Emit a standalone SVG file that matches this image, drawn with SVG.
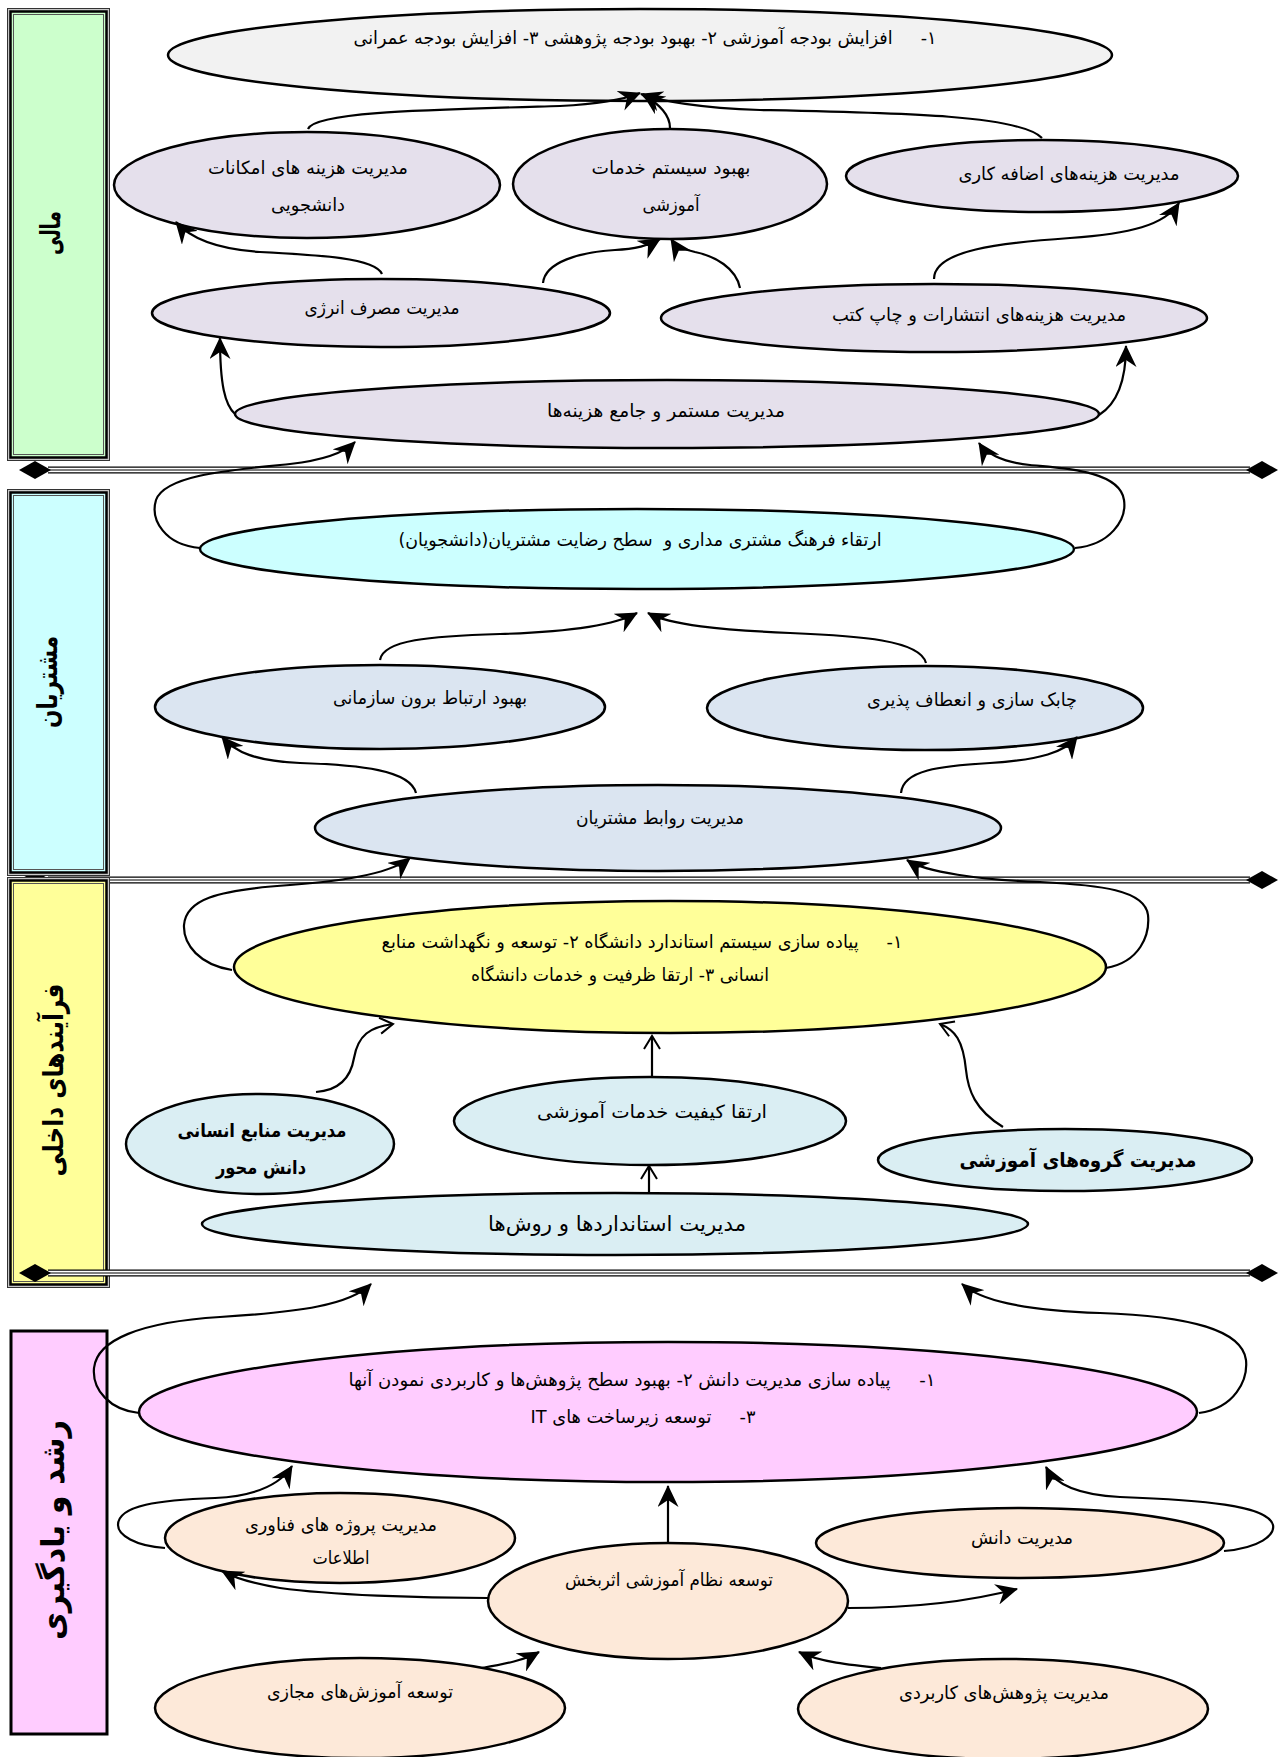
<svg xmlns="http://www.w3.org/2000/svg" width="1280" height="1757" viewBox="0 0 1280 1757">
<style>
.t{font-family:"DejaVu Sans",sans-serif;font-size:18px;direction:rtl;text-anchor:middle;fill:#000}
.b{font-weight:bold}
.side{font-family:"DejaVu Sans",sans-serif;font-weight:bold;font-size:28px;direction:rtl;text-anchor:middle;fill:#000}
.n{stroke:#000;stroke-width:2.5}
.c{fill:none;stroke:#000;stroke-width:2.2}
.a{marker-end:url(#arr)}
.o{marker-end:url(#open)}
</style>
<defs>
<marker id="arr" markerUnits="userSpaceOnUse" markerWidth="23" markerHeight="21" refX="21" refY="10.5" orient="auto">
<path d="M0,0 L22,10.5 L0,21 L7,10.5 Z" fill="#000"/>
</marker>
<marker id="open" markerUnits="userSpaceOnUse" markerWidth="16" markerHeight="18" refX="14" refY="9" orient="auto">
<path d="M1,1 L14,9 L1,17" fill="none" stroke="#000" stroke-width="2"/>
</marker>
<g id="sepline">
<line x1="48" y1="0" x2="1250" y2="0" stroke="#000" stroke-width="7"/>
<line x1="48" y1="0" x2="1250" y2="0" stroke="#fff" stroke-width="4.5"/>
<line x1="48" y1="0" x2="1250" y2="0" stroke="#555" stroke-width="1.6"/>
<path d="M19,0 L35,-9 L51,0 L35,9 Z" fill="#000"/>
<path d="M1246,0 L1262,-9 L1278,0 L1262,9 Z" fill="#000"/>
</g>
</defs>
<rect width="1280" height="1757" fill="#fff"/>

<g id="separators-back">
<use href="#sepline" y="470"/>
<use href="#sepline" y="880"/>
</g>

<g id="box-mali">
<rect x="7.5" y="8.5" width="102" height="452" fill="#c8c8c8" stroke="#333" stroke-width="1"/>
<rect x="10.5" y="11.5" width="96" height="446" fill="#CCFFCC" stroke="#000" stroke-width="2.5"/>
<rect x="13.5" y="14.5" width="90" height="440" fill="none" stroke="#555" stroke-width="1"/>
<text class="side" x="50" y="243" transform="rotate(-90 50 233)" textLength="44" lengthAdjust="spacingAndGlyphs">مالی</text>
</g>
<g id="box-moshtarian">
<rect x="7.5" y="489.5" width="102" height="386" fill="#c8c8c8" stroke="#333" stroke-width="1"/>
<rect x="10.5" y="492.5" width="96" height="380" fill="#CCFFFF" stroke="#000" stroke-width="2.5"/>
<rect x="13.5" y="495.5" width="90" height="374" fill="none" stroke="#555" stroke-width="1"/>
<text class="side" x="47" y="692" transform="rotate(-90 47 682)" textLength="92" lengthAdjust="spacingAndGlyphs">مشتریان</text>
</g>
<g id="box-farayand">
<rect x="7.5" y="877.5" width="102" height="410" fill="#c8c8c8" stroke="#333" stroke-width="1"/>
<rect x="10.5" y="880.5" width="96" height="404" fill="#FFFF99" stroke="#000" stroke-width="2.5"/>
<rect x="13.5" y="883.5" width="90" height="398" fill="none" stroke="#555" stroke-width="1"/>
<text class="side" x="53" y="1090" transform="rotate(-90 53 1080)" textLength="193" lengthAdjust="spacingAndGlyphs">فرآیندهای داخلی</text>
</g>
<g id="box-roshd">
<rect x="11" y="1331" width="96" height="403" fill="#FFCCFF" stroke="#000" stroke-width="3"/>
<text class="side" x="53" y="1541" style="font-size:32px" transform="rotate(-90 53 1530)" textLength="220" lengthAdjust="spacingAndGlyphs">رشد و یادگیری</text>
</g>

<g id="separators-front">
<use href="#sepline" y="1273"/>
</g>

<g id="n1"><ellipse class="n" cx="640" cy="55" rx="472" ry="46" fill="#F2F2F2"/>
<text class="t" x="645" y="44" xml:space="preserve" textLength="583" lengthAdjust="spacingAndGlyphs">۱-     افزایش بودجه آموزشی ۲- بهبود بودجه پژوهشی ۳- افزایش بودجه عمرانی</text></g>
<g id="n2"><ellipse class="n" cx="307" cy="185" rx="193" ry="53" fill="#E5E0EC"/>
<text class="t" x="308" y="174" textLength="200" lengthAdjust="spacingAndGlyphs">مدیریت هزینه های امکانات</text>
<text class="t" x="308" y="211" textLength="74" lengthAdjust="spacingAndGlyphs">دانشجویی</text></g>
<g id="n3"><ellipse class="n" cx="670" cy="184" rx="157" ry="55" fill="#E5E0EC"/>
<text class="t" x="671" y="174" textLength="159" lengthAdjust="spacingAndGlyphs">بهبود سیستم خدمات</text>
<text class="t" x="671" y="211" textLength="57" lengthAdjust="spacingAndGlyphs">آموزشی</text></g>
<g id="n4"><ellipse class="n" cx="1042" cy="176" rx="196" ry="36" fill="#E5E0EC"/>
<text class="t" x="1069" y="180" textLength="221" lengthAdjust="spacingAndGlyphs">مدیریت هزینه&#x200C;های اضافه کاری</text></g>
<g id="n5"><ellipse class="n" cx="381" cy="313" rx="229" ry="34" fill="#E5E0EC"/>
<text class="t" x="382" y="314" textLength="155" lengthAdjust="spacingAndGlyphs">مدیریت مصرف انرژی</text></g>
<g id="n6"><ellipse class="n" cx="934" cy="318" rx="273" ry="34" fill="#E5E0EC"/>
<text class="t" x="979" y="321" textLength="294" lengthAdjust="spacingAndGlyphs">مدیریت هزینه&#x200C;های انتشارات و چاپ کتب</text></g>
<g id="n7"><ellipse class="n" cx="667" cy="414" rx="432" ry="34" fill="#E5E0EC"/>
<text class="t" x="666" y="417" textLength="238" lengthAdjust="spacingAndGlyphs">مدیریت مستمر و جامع هزینه&#x200C;ها</text></g>

<g id="n8"><ellipse class="n" cx="637" cy="549" rx="437" ry="40" fill="#CCFFFF"/>
<text class="t" x="640" y="546" xml:space="preserve" textLength="483" lengthAdjust="spacingAndGlyphs">ارتقاء فرهنگ مشتری مداری و  سطح رضایت مشتریان(دانشجویان)</text></g>
<g id="n9"><ellipse class="n" cx="380" cy="707" rx="225" ry="42" fill="#DBE5F1"/>
<text class="t" x="430" y="704" textLength="194" lengthAdjust="spacingAndGlyphs">بهبود ارتباط برون سازمانی</text></g>
<g id="n10"><ellipse class="n" cx="925" cy="708" rx="218" ry="42" fill="#DBE5F1"/>
<text class="t" x="972" y="706" textLength="210" lengthAdjust="spacingAndGlyphs">چابک سازی و انعطاف پذیری</text></g>
<g id="n11"><ellipse class="n" cx="658" cy="828" rx="343" ry="43" fill="#DBE5F1"/>
<text class="t" x="660" y="824" textLength="168" lengthAdjust="spacingAndGlyphs">مدیریت روابط مشتریان</text></g>

<g id="n12"><ellipse class="n" cx="670" cy="967" rx="436" ry="66" fill="#FFFF99"/>
<text class="t" x="642" y="948" xml:space="preserve" textLength="521" lengthAdjust="spacingAndGlyphs">۱-     پیاده سازی سیستم استاندارد دانشگاه ۲- توسعه و نگهداشت منابع</text>
<text class="t" x="620" y="981" textLength="298" lengthAdjust="spacingAndGlyphs">انسانی ۳- ارتقا ظرفیت و خدمات دانشگاه</text></g>
<g id="n13"><ellipse class="n" cx="260" cy="1144" rx="134" ry="50" fill="#DAEEF3"/>
<text class="t b" x="262" y="1137" style="font-size:19px" textLength="169" lengthAdjust="spacingAndGlyphs">مدیریت منابع انسانی</text>
<text class="t b" x="261" y="1174" style="font-size:19px" textLength="90" lengthAdjust="spacingAndGlyphs">دانش محور</text></g>
<g id="n14"><ellipse class="n" cx="650" cy="1121" rx="196" ry="44" fill="#DAEEF3"/>
<text class="t" x="652" y="1118" textLength="230" lengthAdjust="spacingAndGlyphs">ارتقا کیفیت خدمات آموزشی</text></g>
<g id="n15"><ellipse class="n" cx="1065" cy="1160" rx="187" ry="31" fill="#DAEEF3"/>
<text class="t b" x="1078" y="1167" style="font-size:20px" textLength="237" lengthAdjust="spacingAndGlyphs">مدیریت گروه&#x200C;های آموزشی</text></g>
<g id="n16"><ellipse class="n" cx="615" cy="1224" rx="413" ry="31" fill="#DAEEF3"/>
<text class="t" x="617" y="1231" style="font-size:21px" textLength="258" lengthAdjust="spacingAndGlyphs">مدیریت استانداردها و روش&#x200C;ها</text></g>

<g id="n17"><ellipse class="n" cx="668" cy="1412" rx="529" ry="70" fill="#FFCCFF"/>
<text class="t" x="642" y="1386" xml:space="preserve" textLength="587" lengthAdjust="spacingAndGlyphs">۱-     پیاده سازی مدیریت دانش ۲- بهبود سطح پژوهش&#x200C;ها و کاربردی نمودن آنها</text>
<text class="t" x="643" y="1423" xml:space="preserve" textLength="225" lengthAdjust="spacingAndGlyphs">۳-     توسعه زیرساخت های IT</text></g>
<g id="n18"><ellipse class="n" cx="340" cy="1538" rx="175" ry="45" fill="#FDE9D9"/>
<text class="t" x="341" y="1531" textLength="192" lengthAdjust="spacingAndGlyphs">مدیریت پروژه های فناوری</text>
<text class="t" x="341" y="1564" textLength="57" lengthAdjust="spacingAndGlyphs">اطلاعات</text></g>
<g id="n19"><ellipse class="n" cx="668" cy="1601" rx="180" ry="58" fill="#FDE9D9"/>
<text class="t" x="669" y="1586" textLength="208" lengthAdjust="spacingAndGlyphs">توسعه نظام آموزشی اثربخش</text></g>
<g id="n20"><ellipse class="n" cx="1020" cy="1543" rx="204" ry="35" fill="#FDE9D9"/>
<text class="t" x="1022" y="1544" textLength="102" lengthAdjust="spacingAndGlyphs">مدیریت دانش</text></g>
<g id="n21"><ellipse class="n" cx="360" cy="1708" rx="205" ry="50" fill="#FDE9D9"/>
<text class="t" x="360" y="1698" textLength="186" lengthAdjust="spacingAndGlyphs">توسعه آموزش&#x200C;های مجازی</text></g>
<g id="n22"><ellipse class="n" cx="1003" cy="1709" rx="205" ry="50" fill="#FDE9D9"/>
<text class="t" x="1004" y="1699" textLength="210" lengthAdjust="spacingAndGlyphs">مدیریت پژوهش&#x200C;های کاربردی</text></g>

<g id="connectors">
<path class="c a" d="M308,129 C315,112 420,110 560,106 C600,104 625,99 640,93"/>
<path class="c a" d="M670,128 C670,115 660,105 643,94"/>
<path class="c a" d="M1042,138 C1020,115 900,113 760,110 C700,108 660,101 641,94"/>
<path class="c a" d="M382,274 C375,258 320,255 260,252 C215,249 190,238 176,222"/>
<path class="c a" d="M543,283 C545,262 580,252 615,250 C635,249 650,245 660,239"/>
<path class="c a" d="M740,288 C736,268 715,256 695,252 C682,249 675,245 671,239"/>
<path class="c a" d="M934,279 C934,250 1000,243 1070,238 C1130,234 1165,225 1179,203"/>
<path class="c a" d="M235,414 C225,405 220,385 220,338"/>
<path class="c a" d="M1099,415 C1115,405 1126,385 1126,346"/>
<path class="c a" d="M200,548 C165,545 150,520 156,500 C165,475 230,470 290,464 C325,460 345,452 355,442"/>
<path class="c a" d="M1075,548 C1110,545 1127,520 1124,500 C1120,470 1060,468 1030,465 C1000,462 985,452 979,443"/>
<path class="c a" d="M380,660 C383,640 430,636 500,634 C570,632 615,625 637,613"/>
<path class="c a" d="M926,663 C920,640 860,636 790,633 C720,630 670,625 648,613"/>
<path class="c a" d="M416,793 C410,770 360,765 300,763 C255,761 235,752 222,737"/>
<path class="c a" d="M901,793 C903,770 940,766 990,763 C1040,760 1065,752 1077,737"/>
<path class="c a" d="M232,970 C200,965 183,945 184,925 C186,900 215,890 290,885 C360,880 395,870 410,858"/>
<path class="c a" d="M1106,968 C1140,962 1150,935 1148,915 C1145,890 1100,885 1040,882 C980,880 925,872 907,860"/>
<path class="c o" d="M316,1092 C345,1090 352,1070 354,1058 C358,1035 370,1027 393,1024"/>
<path class="c o" d="M652,1077 L652,1036"/>
<path class="c o" d="M649,1194 L649,1166"/>
<path class="c o" d="M1003,1127 C975,1110 968,1090 966,1070 C963,1040 955,1030 940,1024"/>
<path class="c a" d="M139,1413 C110,1410 92,1390 94,1368 C97,1340 140,1322 220,1317 C300,1312 350,1305 371,1284"/>
<path class="c a" d="M1199,1413 C1235,1408 1248,1380 1246,1360 C1242,1330 1190,1316 1100,1313 C1020,1310 980,1300 962,1284"/>
<path class="c a" d="M668,1542 L668,1486"/>
<path class="c a" d="M165,1548 C135,1546 118,1535 118,1525 C118,1505 160,1500 215,1498 C255,1496 280,1485 292,1466"/>
<path class="c a" d="M488,1598 C420,1598 330,1595 280,1588 C255,1584 235,1578 222,1571"/>
<path class="c a" d="M848,1608 C900,1608 960,1604 1017,1589"/>
<path class="c a" d="M1224,1551 C1260,1548 1275,1535 1273,1525 C1268,1505 1200,1500 1120,1497 C1080,1495 1055,1485 1046,1467"/>
<path class="c a" d="M482,1668 C505,1664 525,1660 539,1652"/>
<path class="c a" d="M881,1668 C850,1665 820,1662 799,1652"/>
</g>
</svg>
